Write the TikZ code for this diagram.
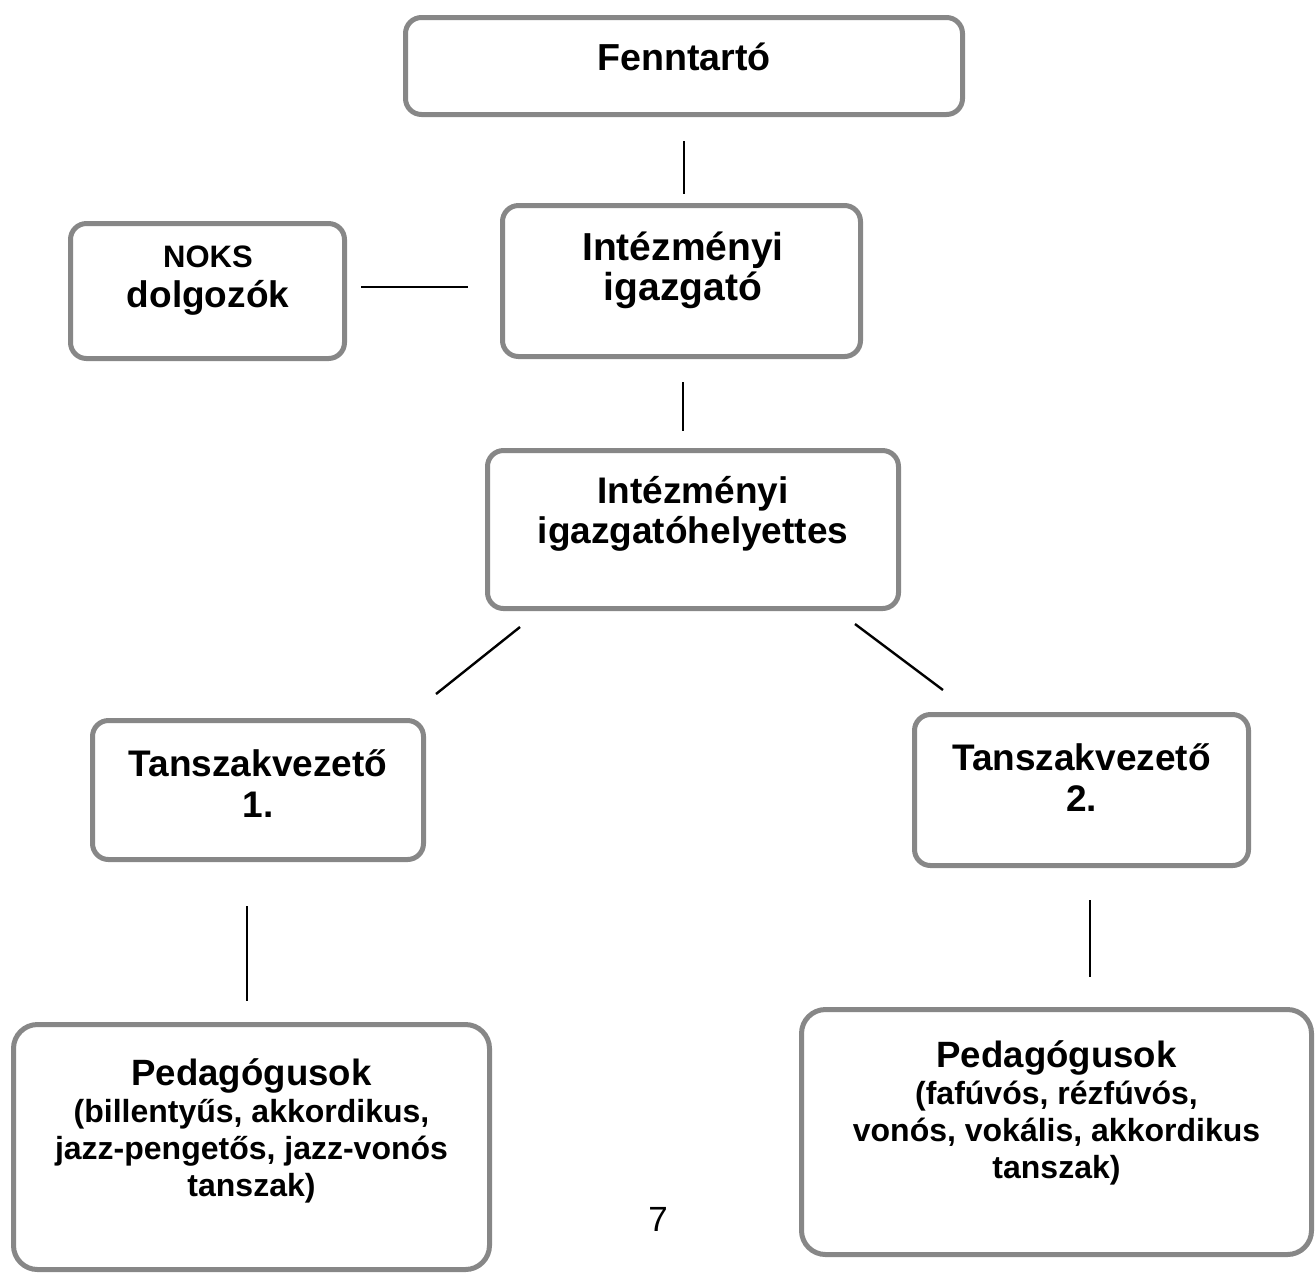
\documentclass[tikz,border=0pt]{standalone}
\usepackage{fontspec}
\setmainfont{Liberation Sans}
\usetikzlibrary{calc}
\newcommand{\subf}{\fontsize{16}{18.5}\selectfont}
\tikzset{
  box/.style={draw=black!47, line width=2.5pt, rounded corners=8pt, fill=white},
  lbl/.style={align=center, font=\bfseries\fontsize{18.5}{20}\selectfont},
  conn/.style={line width=1.2pt},
}
\begin{document}
\begin{tikzpicture}[x=0.5pt, y=-0.5pt]
        \useasboundingbox (0,0) rectangle (1316,1276);
        % boxes
        \node[box, minimum width=278.5pt, minimum height=48.5pt] (fenn) at (684,66) {};
        \node[box, minimum width=179pt, minimum height=75.5pt] (igaz) at (681.5,281) {};
        \node[box, minimum width=137pt, minimum height=67.5pt] (noks) at (207.5,291) {};
        \node[box, minimum width=205.5pt, minimum height=79pt] (helyet) at (693,529.5) {};
        \node[box, minimum width=165.5pt, minimum height=69.5pt] (tsz1) at (258,790) {};
        \node[box, minimum width=167pt, minimum height=75.5pt] (tsz2) at (1081.5,790) {};
        \node[box, rounded corners=12pt, minimum width=238pt, minimum height=122.5pt] (ped1) at (251.5,1147) {};
        \node[box, rounded corners=12pt, minimum width=255pt, minimum height=122.5pt] (ped2) at (1056.5,1132) {};
        % texts
        \node[lbl, font=\bfseries\fontsize{18.8}{20}\selectfont] (fenn-t) at (684,57) {Fenntartó};
        \node[lbl, font=\bfseries\fontsize{19.5}{20}\selectfont] (igaz-t) at (683,270) {Intézményi\\igazgató};
        \node[lbl] (noks-t) at (208,281) {{\fontsize{15.5}{20}\selectfont NOKS}\\dolgozók};
        \node[lbl] (helyet-t) at (693,514) {Intézményi\\igazgatóhelyettes};
        \node[lbl, font=\bfseries\fontsize{18.5}{20.5}\selectfont] (tsz1-t) at (258,784) {Tanszakvezető\\1.};
        \node[lbl, font=\bfseries\fontsize{18.5}{20.5}\selectfont] (tsz2-t) at (1081.5,778) {Tanszakvezető\\2.};
        \node[lbl, font=\bfseries\fontsize{18.3}{18.5}\selectfont] (ped1-t) at (251.5,1131)
            {Pedagógusok\\\subf (billentyűs, akkordikus,\\\subf jazz-pengetős, jazz-vonós\\\subf tanszak)};
        \node[lbl, font=\bfseries\fontsize{18.3}{18.5}\selectfont] (ped2-t) at (1056.5,1113)
            {Pedagógusok\\\subf (fafúvós, rézfúvós,\\\subf vonós, vokális, akkordikus\\\subf tanszak)};
        \node[font=\fontsize{17.5}{20}\selectfont] (oldal) at (658,1219) {7};
        % connectors
        \draw[conn] ([yshift=-12pt]fenn.south) -- ([yshift=4.5pt]fenn.south |- igaz.north);
        \draw[conn] ([xshift=7pt,yshift=2pt]noks.east) -- ([xshift=-16pt,yshift=2pt]noks.east -| igaz.west);
        \draw[conn] ([xshift=0.75pt,yshift=-11.5pt]igaz.south) -- ([xshift=0.75pt,yshift=8.5pt]igaz.south |- helyet.north);
        \draw[conn] ([xshift=17.5pt,yshift=-8pt]helyet.south west) -- ([xshift=5pt,yshift=12pt]tsz1.north east);
        \draw[conn] ([xshift=-23pt,yshift=-6.5pt]helyet.south east) -- ([xshift=15.5pt,yshift=11pt]tsz2.north west);
        \draw[conn] ([xshift=-5.5pt,yshift=-22pt]tsz1.south) -- ([xshift=-5.5pt,yshift=10.5pt]tsz1.south |- ped1.north);
        \draw[conn] ([xshift=4.25pt,yshift=-16pt]tsz2.south) -- ([xshift=4.25pt,yshift=15pt]tsz2.south |- ped2.north);
    \end{tikzpicture}
\end{document}
